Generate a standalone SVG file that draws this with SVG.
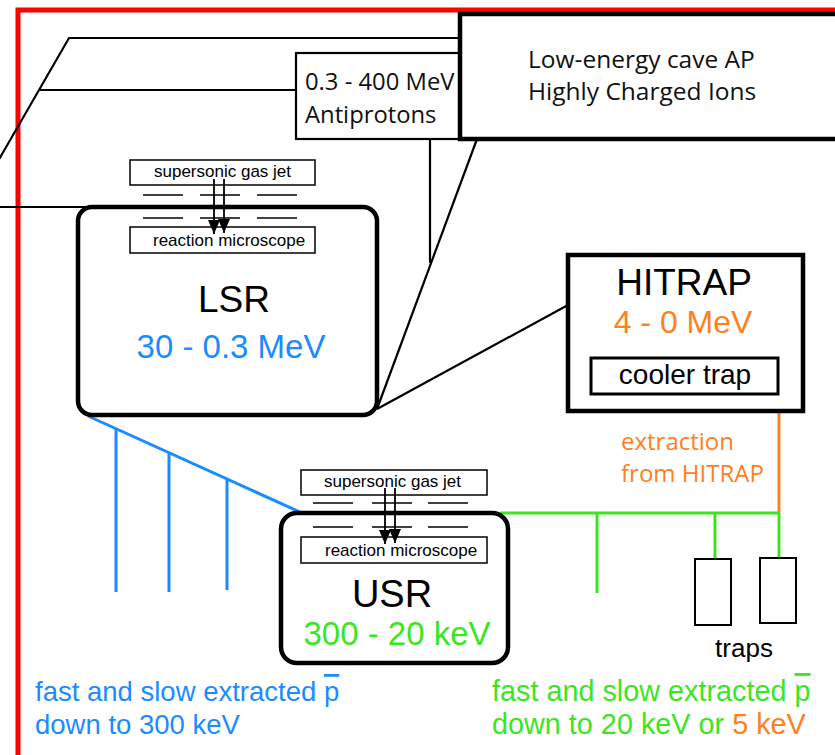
<svg xmlns="http://www.w3.org/2000/svg" width="835" height="755" viewBox="0 0 835 755">
<defs>
<marker id="ah" markerUnits="userSpaceOnUse" markerWidth="14" markerHeight="12" viewBox="0 -6 14 12" refX="14" refY="0" orient="auto">
<path d="M0,-6 L14,0 L0,6 z" fill="#000"/>
</marker>
<style>
.thin{stroke:#000;stroke-width:2.2;fill:none}
.thick{stroke:#000;stroke-width:4.5;fill:#fff}
.small{stroke:#000;stroke-width:1.5;fill:#fff}
.dash{stroke:#000;stroke-width:1.5}
.arr{stroke:#000;stroke-width:1.8;marker-end:url(#ah)}
.myr{font-family:"Open Sans","Noto Sans",sans-serif;fill:#111}
.ar{font-family:"Liberation Sans",Arial,sans-serif;fill:#000}
.blue{fill:#1a8cff}
.green{fill:#3ce61e}
.orange{fill:#ff8020}
.bl{stroke:#1a8cff;stroke-width:3;fill:none}
.gl{stroke:#3ce61e;stroke-width:3;fill:none}
.ol{stroke:#ff8020;stroke-width:3;fill:none}
</style>
</defs>
<rect width="835" height="755" fill="#fff"/>
<g id="frame">
<polyline points="18,755 18,10 835,10" fill="none" stroke="#ff0000" stroke-width="5"/>
</g>
<g id="connectors">
<polyline class="thin" points="-10,175 69,38 462,38" stroke-width="2.6"/>
<line class="thin" x1="40" y1="90" x2="298" y2="90"/>
<line class="thin" x1="0" y1="207" x2="88" y2="207"/>
<line class="thin" x1="430" y1="139" x2="430" y2="263"/>
<line class="thin" x1="477" y1="139" x2="377" y2="409" stroke-width="2.6"/>
<line class="thin" x1="377" y1="409" x2="568" y2="305" stroke-width="2.6"/>
<line class="bl" x1="88" y1="416" x2="302" y2="513"/>
<line class="bl" x1="116" y1="428" x2="116" y2="592"/>
<line class="bl" x1="169" y1="452" x2="169" y2="592"/>
<line class="bl" x1="227" y1="479" x2="227" y2="590"/>
<line class="ol" x1="779" y1="411" x2="779" y2="513"/>
<line class="gl" x1="500" y1="513" x2="780" y2="513"/>
<line class="gl" x1="597" y1="513" x2="597" y2="593"/>
<line class="gl" x1="715" y1="513" x2="715" y2="560"/>
<line class="gl" x1="779" y1="513" x2="779" y2="558"/>
</g>
<g id="antiprotons">
<rect x="296" y="53" width="170" height="86" fill="#fff" stroke="#000" stroke-width="2.2"/>
<text class="myr" x="305" y="90" font-size="23.8">0.3 - 400 MeV</text>
<text class="myr" x="305" y="123" font-size="23.8">Antiprotons</text>
</g>
<g id="cave">
<rect x="460" y="14" width="400" height="125" class="thick"/>
<text class="myr" x="528" y="68" font-size="24.5">Low-energy cave AP</text>
<text class="myr" x="528" y="100" font-size="24.5">Highly Charged Ions</text>
</g>
<g id="lsr">
<rect x="78" y="207" width="299" height="208" rx="14" class="thick"/>
<text class="ar" x="234" y="312" font-size="37" text-anchor="middle">LSR</text>
<text class="ar blue" x="231" y="358" font-size="33" text-anchor="middle">30 - 0.3 MeV</text>
</g>
<g id="lsr-jet">
<rect x="130" y="160" width="185" height="25" class="small"/>
<text class="ar" x="154" y="177" font-size="17" fill="#222">supersonic gas jet</text>
<line class="dash" x1="143" y1="195" x2="183" y2="195"/>
<line class="dash" x1="200" y1="195" x2="240" y2="195"/>
<line class="dash" x1="257" y1="195" x2="297" y2="195"/>
<line class="dash" x1="143" y1="218" x2="183" y2="218"/>
<line class="dash" x1="200" y1="218" x2="240" y2="218"/>
<line class="dash" x1="257" y1="218" x2="297" y2="218"/>
<rect x="130" y="227" width="185" height="26" class="small"/>
<text class="ar" x="153" y="246" font-size="17" fill="#222">reaction microscope</text>
<line class="arr" x1="214" y1="179" x2="214" y2="234"/>
<line class="arr" x1="224" y1="179" x2="224" y2="233"/>
</g>
<g id="hitrap">
<rect x="568" y="255" width="235" height="156" class="thick" stroke-width="4"/>
<text class="ar" x="684" y="295" font-size="37" text-anchor="middle">HITRAP</text>
<text class="ar orange" x="683" y="333" font-size="32" text-anchor="middle">4 - 0 MeV</text>
<rect x="591" y="358" width="187" height="36" fill="#fff" stroke="#000" stroke-width="3"/>
<text class="ar" x="685" y="384" font-size="28" text-anchor="middle">cooler trap</text>
</g>
<g id="extraction">
<text class="myr orange" x="621" y="450" font-size="24">extraction</text>
<text class="myr orange" x="621" y="482" font-size="24">from HITRAP</text>
</g>
<g id="usr">
<rect x="281" y="513" width="227" height="150" rx="16" class="thick"/>
<text class="ar" x="392" y="607" font-size="38" text-anchor="middle">USR</text>
<text class="ar green" x="397" y="645" font-size="33" text-anchor="middle">300 - 20 keV</text>
</g>
<g id="usr-jet">
<rect x="301" y="470" width="186" height="25" class="small"/>
<text class="ar" x="324" y="487" font-size="17" fill="#222">supersonic gas jet</text>
<line class="dash" x1="313" y1="503" x2="353" y2="503"/>
<line class="dash" x1="372" y1="503" x2="412" y2="503"/>
<line class="dash" x1="428" y1="503" x2="468" y2="503"/>
<line class="dash" x1="313" y1="527" x2="353" y2="527"/>
<line class="dash" x1="372" y1="527" x2="412" y2="527"/>
<line class="dash" x1="428" y1="527" x2="468" y2="527"/>
<rect x="301" y="537" width="186" height="26" class="small"/>
<text class="ar" x="325" y="556" font-size="17" fill="#222">reaction microscope</text>
<line class="arr" x1="385" y1="488" x2="385" y2="544"/>
<line class="arr" x1="395" y1="488" x2="395" y2="543"/>
</g>
<g id="traps">
<rect x="695" y="559" width="36" height="66" fill="#fff" stroke="#000" stroke-width="2"/>
<rect x="760" y="558" width="36" height="65" fill="#fff" stroke="#000" stroke-width="2"/>
<text class="ar" x="744" y="657" font-size="26" text-anchor="middle" fill="#111">traps</text>
</g>
<g id="label-lsr-extraction">
<text class="ar blue" x="35" y="701" font-size="27.5">fast and slow extracted <tspan style="text-decoration:overline">p</tspan></text>
<text class="ar blue" x="35" y="734" font-size="27.5">down to 300 keV</text>
</g>
<g id="label-usr-extraction">
<text class="ar green" x="492" y="701" font-size="28.8">fast and slow extracted <tspan style="text-decoration:overline">p</tspan></text>
<text class="ar green" x="492" y="734" font-size="28.8">down to 20 keV or <tspan class="orange">5 keV</tspan></text>
</g>
</svg>
